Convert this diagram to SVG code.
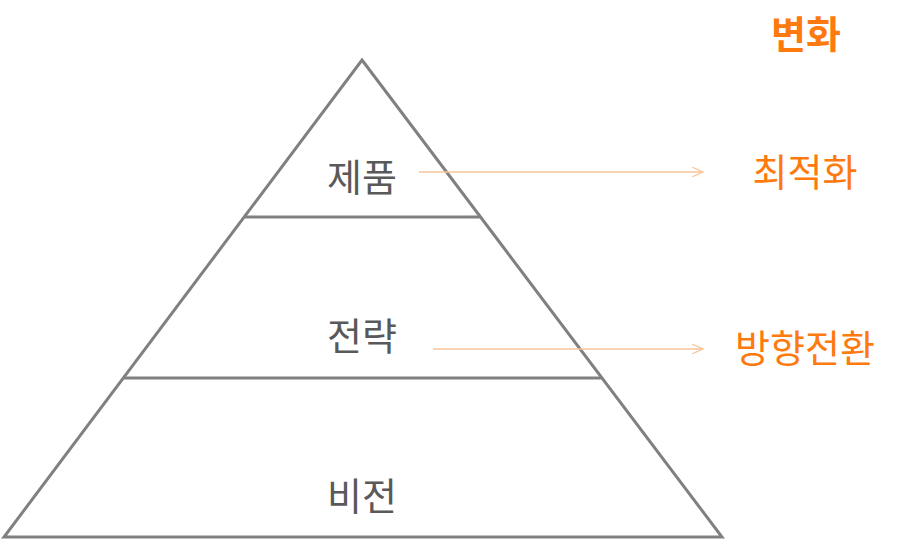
<svg xmlns="http://www.w3.org/2000/svg" width="900" height="557" viewBox="0 0 900 557">
<defs>
<style>
.edge{fill:none;stroke:#808080;stroke-width:3;stroke-linejoin:miter}
.lbl{font-family:"Noto Sans CJK KR","Noto Sans",sans-serif;font-size:38px;fill:#595959;text-anchor:middle}
.org{font-family:"Noto Sans CJK KR","Noto Sans",sans-serif;font-size:38px;fill:#ff7a0e;text-anchor:middle}
.arr{stroke:#f9c59a;stroke-width:1.3;fill:none;marker-end:url(#ah)}
</style>
<marker id="ah" viewBox="0 0 12 10" refX="11" refY="5" markerWidth="12" markerHeight="10" markerUnits="userSpaceOnUse" orient="auto">
<path d="M0,0 L11,5 L0,10" fill="none" stroke="#f9c59a" stroke-width="1.2"/>
</marker>
</defs>
<rect width="900" height="557" fill="#fff"/>
<g id="pyramid">
<polygon class="edge" points="362,60 722,537 4,537"/>
<line class="edge" x1="244" y1="217" x2="480" y2="217"/>
<line class="edge" x1="123" y1="378" x2="601" y2="378"/>
</g>
<g id="product"><text class="lbl" x="362" y="191">제품</text></g>
<g id="strategy"><text class="lbl" x="362" y="350">전략</text></g>
<g id="vision"><text class="lbl" x="362" y="510">비전</text></g>
<g id="change"><text class="org" x="806" y="48" font-weight="bold" font-size="36">변화</text></g>
<g id="optimize"><text class="org" x="805" y="186">최적화</text></g>
<g id="pivot"><text class="org" x="805" y="362">방향전환</text></g>
<g id="connectors">
<line class="arr" x1="419" y1="172" x2="703" y2="172"/>
<line class="arr" x1="433" y1="349" x2="703" y2="349"/>
</g>
</svg>
